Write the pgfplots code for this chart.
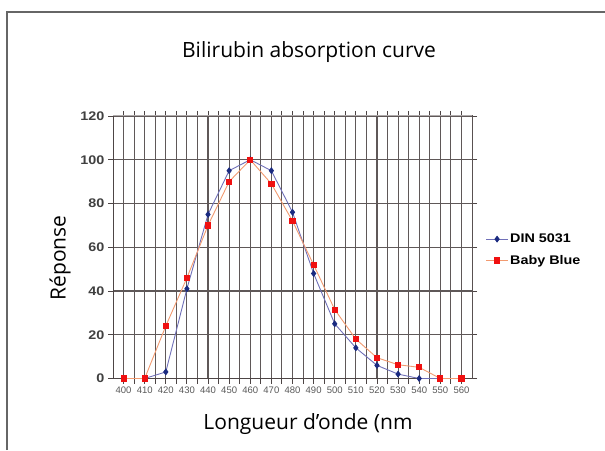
\documentclass[border=0pt]{standalone}
\usepackage{fontspec}
\setmainfont{Open Sans}
\newfontfamily\tickfont{Liberation Sans}
\newfontfamily\legfont[FakeStretch=1.15]{Liberation Sans}
\usepackage{pgfplots}
\pgfplotsset{compat=1.18}
\definecolor{gridc}{HTML}{4D4545}
\definecolor{framec}{HTML}{B0ABAB}
\definecolor{dinline}{HTML}{7070B8}
\definecolor{dinmark}{HTML}{1A2A80}
\definecolor{bbline}{HTML}{F29A70}
\definecolor{bbmark}{HTML}{F01010}
\begin{document}
\begin{tikzpicture}
\useasboundingbox (0pt,0pt) rectangle (605pt,450pt);
\draw[color=black!60, line width=1.3pt] (7pt,0pt) -- (7pt,438pt) -- (606pt,438pt);
\node[font=\fontsize{21}{24}\selectfont] at (309pt,398pt) {Bilirubin absorption curve};
\node[rotate=90,font=\fontsize{21}{24}\selectfont] at (60pt,192pt) {Réponse};
\node[font=\fontsize{21}{24}\selectfont] at (308pt,26pt) {Longueur d’onde (nm};
\begin{axis}[
  at={(113pt,71.5pt)}, anchor=south west,
  scale only axis, width=359pt, height=262.5pt,
  xmin=395, xmax=565, ymin=0, ymax=120,
  xtick={400,410,...,560},
  minor xtick={405,415,...,555},
  ytick={0,20,...,120},
  grid=both,
  major grid style={draw=gridc!90, line width=1.1pt},
  minor grid style={draw=gridc!90, line width=1.1pt},
  tick align=outside,
  major tick length=5pt, minor tick length=5pt,
  tick style={draw=gridc, line width=0.9pt},
  axis line style={draw=gridc, line width=1pt},
  /pgf/number format/assume math mode=true,
  xticklabel style={font=\tickfont\fontsize{9.5}{10}\selectfont, text=black!65},
  yticklabel style={font=\legfont\bfseries\fontsize{12.5}{14}\selectfont, text=black!75},
  legend style={draw=none, fill=none, at={(axis description cs:1.03,0.49)}, anchor=west,
    font=\legfont\bfseries\fontsize{12.5}{14}\selectfont, row sep=7pt},
  legend cell align=left,
  legend image code/.code={\draw[mark repeat=2,mark phase=2] plot coordinates {(0cm,0cm)(0.375cm,0cm)(0.75cm,0cm)};},
]
\addplot[color=dinline, line width=0.9pt, mark=diamond*, mark size=2.8pt,
  mark options={draw=dinmark, fill=dinmark}] coordinates {
(400,0)(410,0)(420,3)(430,41)(440,75)(450,95)(460,100)(470,95)(480,76)(490,48)(500,25)(510,14)(520,6)(530,2)(540,0)(550,0)(560,0)};
\addlegendentry{DIN 5031}
\addplot[color=bbline, line width=0.9pt, mark=square*, mark size=2.6pt,
  mark options={draw=bbmark, fill=bbmark}] coordinates {
(400,0)(410,0)(420,24)(430,46)(440,70)(450,90)(460,100)(470,89)(480,72)(490,52)(500,31.5)(510,18)(520,9.5)(530,6.3)(540,5.1)(550,0)(560,0)};
\addlegendentry{Baby Blue}
\draw[framec, line width=1pt] (rel axis cs:0,1) -- (rel axis cs:1,1) -- (rel axis cs:1,0);
\end{axis}
\end{tikzpicture}
\end{document}
